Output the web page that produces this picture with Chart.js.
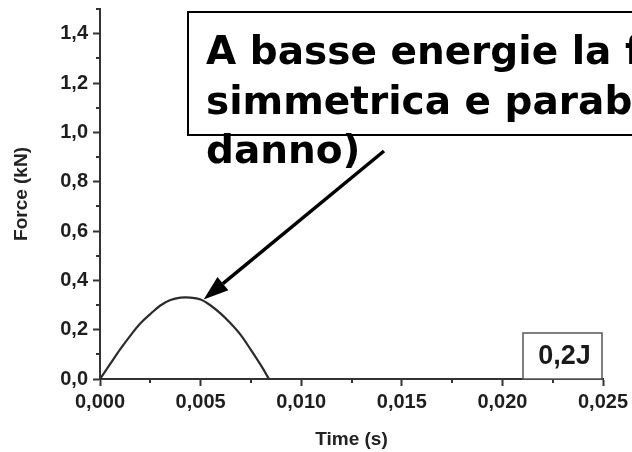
<!DOCTYPE html>
<html>
<head>
<meta charset="utf-8">
<script src="https://cdn.jsdelivr.net/npm/chart.js@4/dist/chart.umd.min.js"></script>
<style>
  html, body { margin: 0; padding: 0; background: #ffffff; }
  #wrap { width: 632px; height: 452px; }
</style>
</head>
<body>
<div id="wrap"><canvas id="c" width="632" height="452"></canvas></div>
<script>
// Impact force history at 0.2 J
const timeS = [0, 0.0005, 0.001, 0.0015, 0.002, 0.0025, 0.003, 0.0035, 0.004, 0.0045,
               0.005, 0.0055, 0.006, 0.0065, 0.007, 0.0075, 0.008, 0.0084];
const forceKN = [0, 0.06, 0.12, 0.175, 0.225, 0.263, 0.298, 0.32, 0.33, 0.33,
                 0.322, 0.298, 0.265, 0.225, 0.178, 0.118, 0.055, 0];

// Axis ranges and tick values
const xMin = 0, xMax = 0.025, xStep = 0.005;
const yMin = 0, yMax = 1.5, yStep = 0.2;
const xMinorTicks = [0.0025, 0.0075, 0.0125, 0.0175, 0.0225];
const yMinorTicks = [0.1, 0.3, 0.5, 0.7, 0.9, 1.1, 1.3, 1.5];

// Texts
const energyLabel = '0,2J';
const noteLines = ['A basse energie la forma è', 'simmetrica e parabolica (nessun', 'danno)'];
const arrowTarget = { t: 0.00515, f: 0.322 };

const axisColor = '#333333';
const tickFont = { family: '"Liberation Sans", Arial, sans-serif', size: 20, weight: 'bold' };
const titleFont = { family: '"Liberation Sans", Arial, sans-serif', size: 19, weight: 'bold' };

const points = timeS.map((t, i) => ({ x: t, y: forceKN[i] }));

// Short minor tick marks outside the axes
const minorTicks = {
  id: 'minorTicks',
  afterDraw(chart) {
    const { ctx, chartArea, scales } = chart;
    ctx.save();
    ctx.strokeStyle = axisColor;
    ctx.lineWidth = 2;
    ctx.beginPath();
    xMinorTicks.forEach(v => {
      const px = Math.round(scales.x.getPixelForValue(v));
      ctx.moveTo(px, chartArea.bottom);
      ctx.lineTo(px, chartArea.bottom + 4);
    });
    yMinorTicks.forEach(v => {
      const py = Math.round(scales.y.getPixelForValue(v));
      ctx.moveTo(chartArea.left, py);
      ctx.lineTo(chartArea.left - 4, py);
    });
    ctx.stroke();
    ctx.restore();
  }
};

// Energy tag, note box and arrow
const annotations = {
  id: 'annotations',
  afterDraw(chart) {
    const { ctx, chartArea, scales } = chart;
    ctx.save();

    // energy tag sitting on the x axis, right side
    const tagR = chartArea.right - 1, tagL = tagR - 79;
    const tagT = chartArea.bottom - 46, tagB = chartArea.bottom;
    ctx.fillStyle = '#ffffff';
    ctx.fillRect(tagL, tagT, tagR - tagL, tagB - tagT);
    ctx.strokeStyle = '#555555';
    ctx.lineWidth = 1.5;
    ctx.strokeRect(tagL, tagT, tagR - tagL, tagB - tagT);
    ctx.fillStyle = '#1a1a1a';
    ctx.font = 'bold 27px "Liberation Sans", Arial, sans-serif';
    ctx.textAlign = 'center';
    ctx.textBaseline = 'middle';
    ctx.fillText(energyLabel, (tagL + tagR) / 2 + 2, (tagT + tagB) / 2 + 1);

    // note box
    ctx.fillStyle = '#ffffff';
    ctx.fillRect(188, 12, 470, 123);
    ctx.strokeStyle = '#000000';
    ctx.lineWidth = 2;
    ctx.strokeRect(188, 12, 470, 123);
    ctx.fillStyle = '#000000';
    ctx.font = 'bold 39px "DejaVu Sans", Verdana, sans-serif';
    ctx.textAlign = 'left';
    ctx.textBaseline = 'alphabetic';
    const baselines = [64, 114, 163];
    noteLines.forEach((line, i) => ctx.fillText(line, 206, baselines[i]));

    // arrow pointing at the curve
    const tipX = scales.x.getPixelForValue(arrowTarget.t);
    const tipY = scales.y.getPixelForValue(arrowTarget.f);
    const tailX = 384, tailY = 151;
    const ang = Math.atan2(tipY - tailY, tipX - tailX);
    const headLen = 25, headHalf = 8.5;
    const baseX = tipX - headLen * Math.cos(ang), baseY = tipY - headLen * Math.sin(ang);
    ctx.strokeStyle = '#000000';
    ctx.lineWidth = 3.5;
    ctx.beginPath();
    ctx.moveTo(tailX, tailY);
    ctx.lineTo(baseX, baseY);
    ctx.stroke();
    ctx.beginPath();
    ctx.moveTo(tipX, tipY);
    ctx.lineTo(baseX + headHalf * Math.sin(ang), baseY - headHalf * Math.cos(ang));
    ctx.lineTo(baseX - headHalf * Math.sin(ang), baseY + headHalf * Math.cos(ang));
    ctx.closePath();
    ctx.fill();

    ctx.restore();
  }
};

new Chart(document.getElementById('c'), {
  type: 'line',
  data: {
    datasets: [{
      data: points,
      borderColor: '#2b2b2b',
      borderWidth: 2.2,
      pointRadius: 0,
      tension: 0.35,
      fill: false
    }]
  },
  options: {
    responsive: false,
    devicePixelRatio: 1,
    animation: false,
    layout: { padding: { top: 9, right: 29, left: 0, bottom: 0 } },
    plugins: { legend: { display: false }, tooltip: { enabled: false } },
    scales: {
      x: {
        type: 'linear',
        min: xMin, max: xMax,
        afterFit(scale) { scale.height = 73; scale.paddingLeft = 0; scale.paddingRight = 0; },
        border: { display: true, color: axisColor, width: 2 },
        grid: { drawOnChartArea: false, drawTicks: true, tickLength: 7, tickColor: axisColor, tickWidth: 2 },
        ticks: {
          stepSize: xStep,
          padding: 4,
          color: '#1e1e1e',
          font: tickFont,
          maxRotation: 0,
          callback: v => Number(v).toFixed(3).replace('.', ',')
        },
        title: { display: true, text: 'Time (s)', color: '#222222', font: titleFont, padding: { top: 0, bottom: 1 } }
      },
      y: {
        min: yMin, max: yMax,
        afterFit(scale) { scale.width = 100; scale.paddingTop = 0; scale.paddingBottom = 0; },
        border: { display: true, color: axisColor, width: 2 },
        grid: { drawOnChartArea: false, drawTicks: true, tickLength: 7, tickColor: axisColor, tickWidth: 2 },
        ticks: {
          stepSize: yStep,
          includeBounds: false,
          padding: 5,
          color: '#1e1e1e',
          font: tickFont,
          callback: v => Number(v).toFixed(1).replace('.', ',')
        },
        title: { display: true, text: 'Force (kN)', color: '#222222', font: titleFont, padding: { top: 10, bottom: 0 } }
      }
    }
  },
  plugins: [minorTicks, annotations]
});
</script>
</body>
</html>
